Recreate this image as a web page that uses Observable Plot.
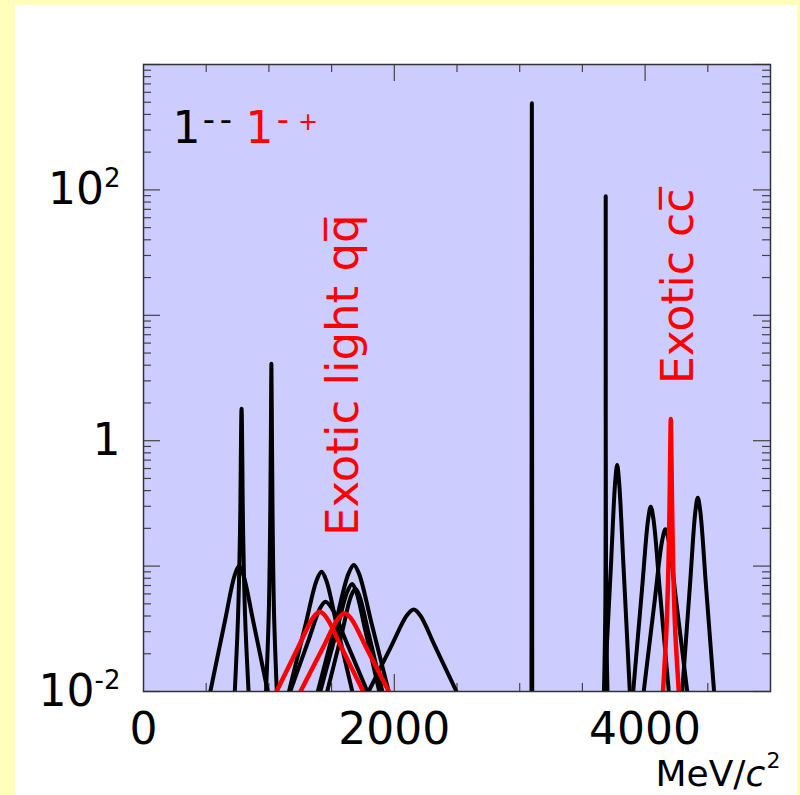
<!DOCTYPE html>
<html><head><meta charset="utf-8">
<script src="https://cdn.jsdelivr.net/npm/d3@7"></script>
<script src="https://cdn.jsdelivr.net/npm/@observablehq/plot@0.6"></script>
<style>
html,body{margin:0;padding:0;background:#ffffbb;width:800px;height:795px;overflow:hidden;}
#panel{position:absolute;left:15px;top:5px;width:782px;height:790px;background:#fff;}
#chart{position:absolute;left:0;top:0;}
</style></head><body><div id="panel"></div><div id="chart"></div>
<script>
// ---- 1-- states (black): [mass MeV, value]
const rho770    = [[533,0.01],[647,0.0355],[728,0.0851],[762,0.100],[796,0.0851],[877,0.0355],[991,0.01]];
const omega782  = [[728,0.01],[754,0.04],[770,0.2],[782,1.8],[794,0.2],[810,0.04],[838,0.01]];
const phi1020   = [[977,0.01],[999,0.042],[1011,0.27],[1016,1.2],[1020,4.1],[1024,1.2],[1029,0.27],[1041,0.042],[1063,0.01]];
const omega1420 = [[1160,0.01],[1290,0.0335],[1381,0.0771],[1420,0.090],[1457,0.0771],[1542,0.0335],[1665,0.01]];
const rho1450   = [[1170,0.01],[1311,0.0248],[1409,0.0463],[1451,0.052],[1501,0.0463],[1618,0.0248],[1785,0.01]];
const omega1650 = [[1410,0.01],[1537,0.0296],[1626,0.0627],[1664,0.072],[1696,0.0627],[1772,0.0296],[1880,0.01]];
const phi1680   = [[1390,0.01],[1534,0.0359],[1634,0.0867],[1677,0.102],[1719,0.0867],[1816,0.0359],[1955,0.01]];
const rho1700   = [[1465,0.01],[1578,0.0282],[1656,0.0579],[1690,0.066],[1722,0.0579],[1798,0.0282],[1905,0.01]];
const rho2150   = [[1795,0.01],[1975,0.0229],[2101,0.0405],[2155,0.045],[2206,0.0405],[2325,0.0229],[2496,0.01]];
const jpsi      = [[3094,0.01],[3097,491],[3100,0.01]];
const psi2S     = [[3672,0.01],[3683,0.05],[3686,89],[3689,0.05],[3700,0.01]];
const psi3770   = [[3676,0.01],[3727,0.0984],[3762,0.479],[3777,0.64],[3792,0.479],[3828,0.0984],[3878,0.01]];
const psi4040   = [[3905,0.01],[3975,0.0647],[4024,0.235],[4045,0.298],[4067,0.235],[4117,0.0647],[4189,0.01]];
const psi4160   = [[3989,0.01],[4075,0.0515],[4136,0.160],[4162,0.197],[4188,0.160],[4249,0.0515],[4336,0.01]];
const psi4415   = [[4296,0.01],[4358,0.0708],[4401,0.274],[4420,0.351],[4440,0.274],[4485,0.0708],[4550,0.01]];
// ---- 1-+ exotic states (red)
const pi1_1400  = [[1061,0.01],[1233,0.0224],[1354,0.0390],[1406,0.0432],[1458,0.0390],[1579,0.0224],[1752,0.01]];
const pi1_1600  = [[1252,0.01],[1428,0.0220],[1551,0.0380],[1604,0.0421],[1657,0.0380],[1780,0.0220],[1956,0.01]];
const exoticCC  = [[4143,0.01],[4170,0.031],[4185,0.091],[4195,0.307],[4200,0.745],[4205,1.49],[4210,0.745],[4215,0.307],[4225,0.091],[4240,0.031],[4269,0.01]];

// ---- ticks and labels
const xMinorTicks = [500,1000,1500,2500,3000,3500,4500];
const xMajorTicks = [2000,4000];
const xTickLabels = [0,2000,4000];
const yMajorTicks = [0.01,0.1,1,10,100,1000];
const yMinorTicks = [0.02,0.03,0.04,0.05,0.06,0.07,0.08,0.09,
                     0.2,0.3,0.4,0.5,0.6,0.7,0.8,0.9,
                     2,3,4,5,6,7,8,9,
                     20,30,40,50,60,70,80,90,
                     200,300,400,500,600,700,800,900];
const yLabelValues = [0.01, 1, 100];
const yLabelBase   = ["10", "1", "10"];
const yLabelSup    = ["-2", "", "2"];

const blackSets = {rho770, omega782, phi1020, omega1420, rho1450, omega1650, phi1680, rho1700, rho2150, jpsi, psi2S, psi3770, psi4040, psi4160, psi4415};
const redSets = {pi1_1400, pi1_1600, exoticCC};
const toRows = sets => Object.entries(sets).flatMap(([name, pts]) => pts.map(([x, y]) => ({name, x, y})));
const blackRows = toRows(blackSets);
const redRows = toRows(redSets);

const W = 800, H = 795, ML = 143, MR = 30, MT = 64, MB = 104;
const PH = H - MT - MB;
const PW = W - ML - MR;
const tickColor = "#444";

const yLabelMarks = [];
const supWidth = s => s === "-2" ? 26 : s === "2" ? 16.5 : 0;
yLabelValues.forEach((v, i) => {
  yLabelMarks.push(Plot.text([v], {y: d => d, text: () => yLabelBase[i], frameAnchor: "left", textAnchor: "end",
    dx: -23 - supWidth(yLabelSup[i]), lineAnchor: "middle", fontSize: 44, fill: "black"}));
  if (yLabelSup[i]) yLabelMarks.push(Plot.text([v], {y: d => d, text: () => yLabelSup[i], frameAnchor: "left", textAnchor: "end",
    dx: -23, dy: -11, lineAnchor: "middle", fontSize: 26, fill: "black"}));
});

const legendText = (t, dx, dy, size, color) =>
  Plot.text([t], {frameAnchor: "top-left", dx, dy, textAnchor: "start", lineAnchor: "bottom", fontSize: size, fill: color});

const chart = Plot.plot({
  width: W, height: H,
  marginLeft: ML, marginRight: MR, marginTop: MT, marginBottom: MB,
  style: {fontFamily: "DejaVu Sans", background: "transparent"},
  x: {domain: [0, 5000], axis: null},
  y: {type: "log", domain: [0.01, 1000], axis: null},
  marks: [
    Plot.frame({fill: "#ccccff", stroke: "none"}),
    // bottom & top ticks
    Plot.tickX(xMinorTicks, {x: d => d, insetTop: PH - 8, stroke: tickColor, strokeWidth: 1.2}),
    Plot.tickX(xMinorTicks, {x: d => d, insetBottom: PH - 8, stroke: tickColor, strokeWidth: 1.2}),
    Plot.tickX(xMajorTicks, {x: d => d, insetTop: PH - 17, stroke: tickColor, strokeWidth: 1.2}),
    Plot.tickX(xMajorTicks, {x: d => d, insetBottom: PH - 17, stroke: tickColor, strokeWidth: 1.2}),
    // left & right ticks
    Plot.tickY(yMinorTicks, {y: d => d, insetRight: PW - 8, stroke: tickColor, strokeWidth: 1.2}),
    Plot.tickY(yMinorTicks, {y: d => d, insetLeft: PW - 8, stroke: tickColor, strokeWidth: 1.2}),
    Plot.tickY(yMajorTicks, {y: d => d, insetRight: PW - 17, stroke: tickColor, strokeWidth: 1.2}),
    Plot.tickY(yMajorTicks, {y: d => d, insetLeft: PW - 17, stroke: tickColor, strokeWidth: 1.2}),
    // curves
    Plot.line(blackRows, {x: "x", y: "y", z: "name", stroke: "black", strokeWidth: 4, curve: "catmull-rom", clip: true}),
    Plot.line(redRows, {x: "x", y: "y", z: "name", stroke: "#ff0000", strokeWidth: 4.5, curve: "catmull-rom", clip: true}),
    // annotations
    Plot.text(["Exotic light qq\u0305"], {x: 1707, y: 0.174, rotate: -90, textAnchor: "start", lineAnchor: "bottom", fontSize: 45, fill: "#ff0000"}),
    Plot.text(["Exotic cc\u0305"], {x: 4378, y: 2.83, rotate: -90, textAnchor: "start", lineAnchor: "bottom", fontSize: 44, fill: "#ff0000"}),
    // legend: 1-- (black) 1-+ (red)
    legendText("1", 29, 78, 44, "black"),
    legendText("-", 59.3, 66, 34, "black"),
    legendText("-", 76.3, 66, 34, "black"),
    legendText("1", 102, 78, 44, "#ff0000"),
    legendText("-", 133.3, 66, 34, "#ff0000"),
    legendText("+", 154.6, 65.6, 24, "#ff0000"),
    // x tick labels
    Plot.text(xTickLabels, {x: d => d, text: d => String(d), frameAnchor: "bottom", lineAnchor: "top", dy: 21, fontSize: 44, fill: "black"}),
    // y tick labels
    ...yLabelMarks,
    // x axis title
    Plot.text(["MeV/"], {frameAnchor: "bottom-right", dx: -25, dy: 94, textAnchor: "end", lineAnchor: "bottom", fontSize: 36, fill: "black"}),
    Plot.text(["c"], {frameAnchor: "bottom-right", dx: -25, dy: 94, textAnchor: "start", lineAnchor: "bottom", fontSize: 36, fontStyle: "italic", fill: "black"}),
    Plot.text(["2"], {frameAnchor: "bottom-right", dx: -4, dy: 76, textAnchor: "start", lineAnchor: "bottom", fontSize: 22, fill: "black"}),
    Plot.frame({stroke: "#333", strokeWidth: 1.5})
  ]
});
document.getElementById("chart").appendChild(chart);
</script></body></html>
